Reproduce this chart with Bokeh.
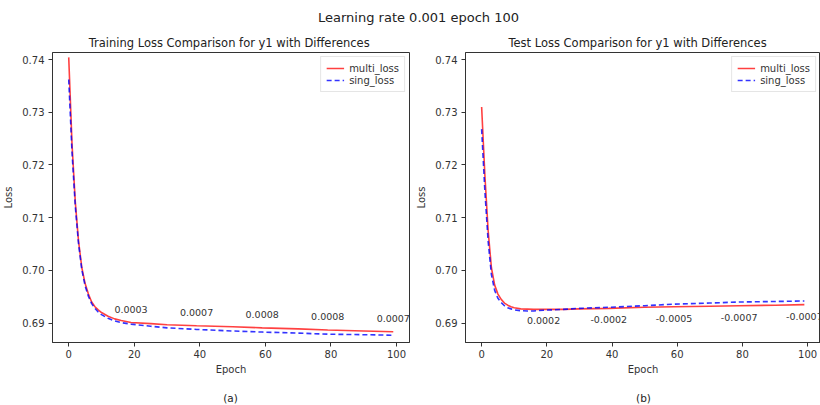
from bokeh.plotting import figure
from bokeh.layouts import column, row
from bokeh.models import Range1d, FixedTicker, Label, Legend, LegendItem, NumeralTickFormatter
from bokeh.core.properties import value
from bokeh.embed import file_html
from bokeh.resources import INLINE

# ---- data ----
epochs = [0, 1, 2, 3, 4, 5, 6, 7, 8, 9, 10, 12, 14, 16, 19, 25, 30, 39, 50, 59, 70, 79, 90, 99]

train_multi = [0.7404, 0.7240, 0.7130, 0.7055, 0.7005, 0.6975, 0.6955, 0.6940, 0.6931, 0.6925, 0.6920,
               0.6913, 0.6908, 0.6905, 0.6901, 0.6899, 0.6897, 0.6895, 0.6893, 0.6891, 0.6889, 0.6887,
               0.6885, 0.68835]
train_sing = [0.7362, 0.7225, 0.7122, 0.7050, 0.7001, 0.6971, 0.6951, 0.6937, 0.6928, 0.6921, 0.6916,
              0.6909, 0.6904, 0.6901, 0.6898, 0.6894, 0.6891, 0.6888, 0.6885, 0.6883, 0.6881, 0.6879,
              0.6878, 0.6877]

test_multi = [0.7310, 0.7180, 0.7075, 0.7005, 0.6972, 0.6955, 0.6945, 0.6938, 0.6934, 0.6931, 0.6929,
              0.6927, 0.69265, 0.6926, 0.6926, 0.6926, 0.6927, 0.6928, 0.6930, 0.6931, 0.6932, 0.6933,
              0.6934, 0.6935]
test_sing = [0.7268, 0.7150, 0.7055, 0.6992, 0.6962, 0.6947, 0.6939, 0.6933, 0.6929, 0.6927, 0.6925,
             0.69235, 0.6923, 0.6923, 0.69245, 0.6926, 0.6928, 0.6930, 0.6933, 0.6936, 0.6938, 0.6940,
             0.6941, 0.6942]

diff_epochs = [19, 39, 59, 79, 99]
train_diff_labels = ["0.0003", "0.0007", "0.0008", "0.0008", "0.0007"]
test_diff_labels = ["0.0002", "-0.0002", "-0.0005", "-0.0007", "-0.0007"]

x_ticks = [0, 20, 40, 60, 80, 100]
y_ticks = [0.69, 0.70, 0.71, 0.72, 0.73, 0.74]

FONT = "DejaVu Sans"
AX = "#333333"


def make_panel(title, multi, sing, labels, offset, width, left_border, right_border):
    p = figure(width=width, height=355, output_backend="svg", toolbar_location=None,
               x_range=Range1d(-4.95, 103.95), y_range=Range1d(0.68632, 0.74133),
               min_border_left=left_border, min_border_right=right_border,
               min_border_top=22, min_border_bottom=43)
    p.background_fill_color = "white"
    p.border_fill_color = "white"
    p.outline_line_color = AX
    p.outline_line_width = 1
    p.xgrid.visible = False
    p.ygrid.visible = False

    p.title.text = title
    p.title.align = "center"
    p.title.text_font = FONT
    p.title.text_font_size = "11.5px"
    p.title.text_font_style = "normal"
    p.title.text_color = "#222222"
    p.title.standoff = 6

    for ax in (p.xaxis[0], p.yaxis[0]):
        ax.axis_line_color = AX
        ax.major_tick_line_color = AX
        ax.major_tick_out = 4
        ax.major_tick_in = 0
        ax.minor_tick_line_color = None
        ax.major_label_text_font = FONT
        ax.major_label_text_font_size = "10px"
        ax.major_label_text_color = "#333333"
        ax.axis_label_text_font = FONT
        ax.axis_label_text_font_size = "10px"
        ax.axis_label_text_font_style = "normal"
        ax.axis_label_text_color = "#333333"

    p.xaxis.ticker = FixedTicker(ticks=x_ticks)
    p.yaxis.ticker = FixedTicker(ticks=y_ticks)
    p.yaxis.formatter = NumeralTickFormatter(format="0.00")
    p.xaxis.axis_label = "Epoch"
    p.yaxis.axis_label = "Loss"
    p.xaxis.major_label_standoff = 3
    p.yaxis.major_label_standoff = 4
    p.xaxis.axis_label_standoff = 3
    p.yaxis.axis_label_standoff = 5

    r1 = p.line(epochs, multi, line_color="red", line_alpha=0.75, line_width=1.6)
    r2 = p.line(epochs, sing, line_color="blue", line_alpha=0.8, line_width=1.6, line_dash="5 3")

    lookup = dict(zip(epochs, multi))
    ly = [lookup[e] + offset for e in diff_epochs]
    p.text(x=diff_epochs, y=ly, text=labels, text_font=value(FONT), text_font_size="9.5px",
           text_align="center", text_baseline="middle", text_color="#333333")

    legend = Legend(items=[LegendItem(label="multi_loss", renderers=[r1]),
                           LegendItem(label="sing_loss", renderers=[r2])],
                    location="top_right")
    legend.margin = 4
    legend.padding = 5
    legend.spacing = 0
    legend.glyph_width = 18
    legend.glyph_height = 12
    legend.label_height = 12
    legend.label_standoff = 5
    legend.label_text_font = FONT
    legend.label_text_font_size = "10px"
    legend.label_text_color = "#333333"
    legend.border_line_color = "#cccccc"
    legend.border_line_width = 1
    legend.background_fill_alpha = 0.85
    p.add_layout(legend)
    return p


def text_strip(height, items, size):
    f = figure(width=820, height=height, output_backend="svg", toolbar_location=None,
               x_range=Range1d(0, 820), y_range=Range1d(0, height),
               x_axis_type=None, y_axis_type=None, min_border=0)
    f.outline_line_color = None
    f.xgrid.visible = False
    f.ygrid.visible = False
    for (tx, ty, txt) in items:
        f.add_layout(Label(x=tx, y=ty, x_units="screen", y_units="screen", text=txt,
                           text_font=FONT, text_font_size=size, text_align="center",
                           text_baseline="middle", text_color="#222222"))
    return f


p1 = make_panel("Training Loss  Comparison for y1 with Differences",
                train_multi, train_sing, train_diff_labels, 0.0025, 410, 51, 1)
p2 = make_panel("Test Loss  Comparison  for y1  with Differences",
                test_multi, test_sing, test_diff_labels, -0.0022, 410, 55, 0)

top = text_strip(30, [(418, 13, "Learning rate 0.001 epoch 100")], "13px")
bottom = text_strip(20, [(230, 8, "(a)"), (643, 8, "(b)")], "10.5px")

layout = column(top, row(p1, p2), bottom)
open("out.html", "w").write(file_html(layout, INLINE))
